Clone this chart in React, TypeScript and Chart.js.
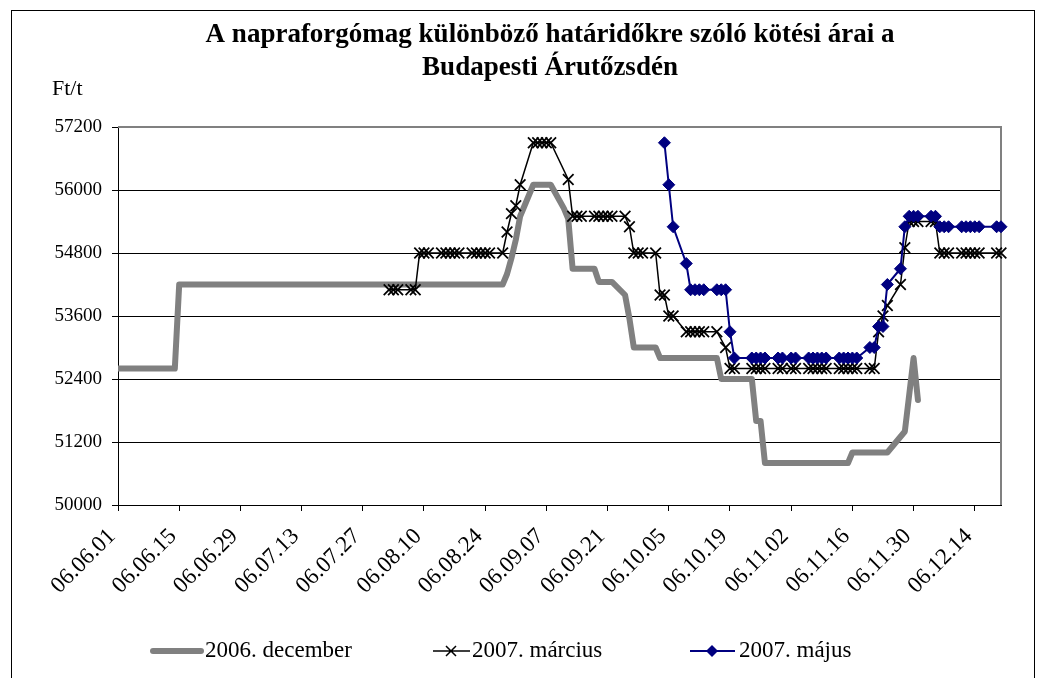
import React, { useEffect, useRef } from 'react';
import { Chart, registerables } from 'chart.js';

Chart.register(...registerables);

// ---- Data ----
const titleLines = ['A napraforgómag különböző határidőkre szóló kötési árai a', 'Budapesti Árutőzsdén'];
const yUnit = 'Ft/t';
const xTickLabels = ['06.06.01', '06.06.15', '06.06.29', '06.07.13', '06.07.27', '06.08.10', '06.08.24', '06.09.07', '06.09.21', '06.10.05', '06.10.19', '06.11.02', '06.11.16', '06.11.30', '06.12.14'];
const yTickValues = [50000, 51200, 52400, 53600, 54800, 56000, 57200];
const axisStart = '06.01';
const axisEnd = '12.20';
const seriesNames = ['2006. december', '2007. március', '2007. május'];

// 2006. december (vertices of the thick grey line)
const dec2006Dates = ['06.01', '06.14', '06.15', '08.28', '08.29', '08.30', '08.31', '09.01', '09.04', '09.08', '09.11', '09.12', '09.13', '09.18', '09.19', '09.22', '09.25', '09.26', '09.27', '10.02', '10.03', '10.16', '10.17', '10.24', '10.25', '10.26', '10.27', '11.15', '11.16', '11.24', '11.28', '11.29', '11.30', '12.01'];
const dec2006Values = [52600, 52600, 54200, 54200, 54400, 54700, 55050, 55500, 56100, 56100, 55650, 55450, 54500, 54500, 54250, 54250, 54000, 53550, 53000, 53000, 52800, 52800, 52400, 52400, 51600, 51600, 50800, 50800, 51000, 51000, 51400, 52100, 52800, 52000];

// 2007. március (black line with x markers)
const mar2007Dates = ['08.02', '08.03', '08.04', '08.07', '08.08', '08.09', '08.10', '08.11', '08.14', '08.15', '08.16', '08.17', '08.18', '08.21', '08.22', '08.23', '08.24', '08.25', '08.28', '08.29', '08.30', '08.31', '09.01', '09.04', '09.05', '09.06', '09.07', '09.08', '09.12', '09.13', '09.14', '09.15', '09.18', '09.19', '09.20', '09.21', '09.22', '09.25', '09.26', '09.27', '09.28', '09.29', '10.02', '10.03', '10.04', '10.05', '10.06', '10.09', '10.10', '10.11', '10.12', '10.13', '10.16', '10.18', '10.19', '10.20', '10.24', '10.25', '10.26', '10.27', '10.30', '10.31', '11.02', '11.03', '11.06', '11.07', '11.08', '11.09', '11.10', '11.13', '11.14', '11.15', '11.16', '11.17', '11.20', '11.21', '11.22', '11.23', '11.24', '11.27', '11.28', '11.29', '11.30', '12.01', '12.04', '12.05', '12.06', '12.07', '12.08', '12.11', '12.12', '12.13', '12.14', '12.15', '12.19', '12.20'];
const mar2007Values = [54100, 54100, 54100, 54100, 54100, 54800, 54800, 54800, 54800, 54800, 54800, 54800, 54800, 54800, 54800, 54800, 54800, 54800, 54800, 55200, 55550, 55700, 56100, 56900, 56900, 56900, 56900, 56900, 56200, 55500, 55500, 55500, 55500, 55500, 55500, 55500, 55500, 55500, 55300, 54800, 54800, 54800, 54800, 54000, 54000, 53600, 53600, 53300, 53300, 53300, 53300, 53300, 53300, 53000, 52600, 52600, 52600, 52600, 52600, 52600, 52600, 52600, 52600, 52600, 52600, 52600, 52600, 52600, 52600, 52600, 52600, 52600, 52600, 52600, 52600, 52600, 53300, 53600, 53800, 54200, 54900, 55400, 55400, 55400, 55400, 55400, 54800, 54800, 54800, 54800, 54800, 54800, 54800, 54800, 54800, 54800];

// 2007. május (navy line with diamond markers)
const may2007Dates = ['10.04', '10.05', '10.06', '10.09', '10.10', '10.11', '10.12', '10.13', '10.16', '10.17', '10.18', '10.19', '10.20', '10.24', '10.25', '10.26', '10.27', '10.30', '10.31', '11.02', '11.03', '11.06', '11.07', '11.08', '11.09', '11.10', '11.13', '11.14', '11.15', '11.16', '11.17', '11.20', '11.21', '11.22', '11.23', '11.24', '11.27', '11.28', '11.29', '11.30', '12.01', '12.04', '12.05', '12.06', '12.07', '12.08', '12.11', '12.12', '12.13', '12.14', '12.15', '12.19', '12.20'];
const may2007Values = [56900, 56100, 55300, 54600, 54100, 54100, 54100, 54100, 54100, 54100, 54100, 53300, 52800, 52800, 52800, 52800, 52800, 52800, 52800, 52800, 52800, 52800, 52800, 52800, 52800, 52800, 52800, 52800, 52800, 52800, 52800, 53000, 53000, 53400, 53400, 54200, 54500, 55300, 55500, 55500, 55500, 55500, 55500, 55300, 55300, 55300, 55300, 55300, 55300, 55300, 55300, 55300, 55300];

// ---- helpers ----
function dayIndex(md: string): number {
  const [m, d] = md.split('.').map(Number);
  const [m0, d0] = axisStart.split('.').map(Number);
  return Math.round((Date.UTC(2006, m - 1, d) - Date.UTC(2006, m0 - 1, d0)) / 86400000);
}
function toPoints(dates: string[], values: number[]) {
  return dates.map((d, i) => ({ x: dayIndex(d), y: values[i] }));
}

const FONT = "'Liberation Serif', 'Times New Roman', serif";
const GREY = '#808080';
const NAVY = '#000080';

const decorPlugin = {
  id: 'decor',
  beforeDraw(chart: any) {
    const ctx = chart.ctx;
    ctx.save();
    ctx.fillStyle = '#fff';
    ctx.fillRect(0, 0, chart.width, chart.height);
    ctx.strokeStyle = '#000';
    ctx.lineWidth = 1;
    ctx.strokeRect(11.5, 10.5, 1023, 700);
    ctx.restore();
  },
  beforeDatasetsDraw(chart: any) {
    const { ctx, chartArea: a } = chart;
    ctx.save();
    ctx.strokeStyle = GREY;
    ctx.lineWidth = 2;
    ctx.beginPath();
    ctx.moveTo(a.left, a.top);
    ctx.lineTo(a.right, a.top);
    ctx.lineTo(a.right, a.bottom);
    ctx.stroke();
    ctx.restore();
  },
  afterDraw(chart: any) {
    const ctx = chart.ctx;
    ctx.save();
    ctx.fillStyle = '#000';
    ctx.textBaseline = 'middle';
    ctx.font = `bold 27px ${FONT}`;
    ctx.textAlign = 'center';
    ctx.fillText(titleLines[0], 550, 35);
    ctx.fillText(titleLines[1], 550, 68);
    ctx.font = `22px ${FONT}`;
    ctx.textAlign = 'left';
    ctx.fillText(yUnit, 52, 89);
    const ly = 651;
    ctx.font = `23px ${FONT}`;
    ctx.strokeStyle = GREY;
    ctx.lineWidth = 6;
    ctx.lineCap = 'round';
    ctx.beginPath();
    ctx.moveTo(153, ly);
    ctx.lineTo(201, ly);
    ctx.stroke();
    ctx.fillText(seriesNames[0], 205, ly);
    ctx.lineCap = 'butt';
    ctx.strokeStyle = '#000';
    ctx.lineWidth = 1.5;
    ctx.beginPath();
    ctx.moveTo(433, ly);
    ctx.lineTo(470, ly);
    ctx.moveTo(446, ly - 5);
    ctx.lineTo(456, ly + 5);
    ctx.moveTo(456, ly - 5);
    ctx.lineTo(446, ly + 5);
    ctx.stroke();
    ctx.fillText(seriesNames[1], 472, ly);
    ctx.strokeStyle = NAVY;
    ctx.fillStyle = NAVY;
    ctx.lineWidth = 2;
    ctx.beginPath();
    ctx.moveTo(690, ly);
    ctx.lineTo(735, ly);
    ctx.stroke();
    ctx.beginPath();
    ctx.moveTo(712, ly - 6);
    ctx.lineTo(718, ly);
    ctx.lineTo(712, ly + 6);
    ctx.lineTo(706, ly);
    ctx.closePath();
    ctx.fill();
    ctx.fillStyle = '#000';
    ctx.fillText(seriesNames[2], 739, ly);
    ctx.restore();
  },
};

export default function App() {
  const ref = useRef<HTMLCanvasElement | null>(null);
  useEffect(() => {
    if (!ref.current) return;
    const chart = new Chart(ref.current, {
      type: 'line',
      data: {
        datasets: [
          {
            label: seriesNames[0],
            data: toPoints(dec2006Dates, dec2006Values),
            borderColor: GREY,
            borderWidth: 6,
            borderJoinStyle: 'round',
            borderCapStyle: 'round',
            pointRadius: 0,
            tension: 0,
            order: 3,
          },
          {
            label: seriesNames[1],
            data: toPoints(mar2007Dates, mar2007Values),
            borderColor: '#000',
            borderWidth: 1.5,
            pointStyle: 'crossRot',
            pointRadius: 7.5,
            pointBorderWidth: 1.75,
            pointBorderColor: '#000',
            pointBackgroundColor: '#000',
            tension: 0,
            clip: false,
            order: 2,
          },
          {
            label: seriesNames[2],
            data: toPoints(may2007Dates, may2007Values),
            borderColor: NAVY,
            borderWidth: 2,
            pointStyle: 'rectRot',
            pointRadius: 6,
            pointBorderWidth: 1,
            pointBorderColor: NAVY,
            pointBackgroundColor: NAVY,
            tension: 0,
            clip: false,
            order: 1,
          },
        ] as any,
      },
      options: {
        responsive: false,
        animation: false,
        devicePixelRatio: 1,
        layout: { padding: { left: 0, right: 38, top: 127, bottom: 0 } },
        plugins: {
          legend: { display: false },
          title: { display: false },
          tooltip: { enabled: false },
        },
        scales: {
          x: {
            type: 'linear',
            min: 0,
            max: dayIndex(axisEnd),
            afterFit(scale: any) {
              scale.height = 173;
            },
            ticks: {
              stepSize: 14,
              includeBounds: false,
              autoSkip: false,
              minRotation: 45,
              maxRotation: 45,
              padding: 12,
              labelOffset: -6,
              color: '#000',
              font: { family: FONT, size: 23 },
              callback: (value: any) => xTickLabels[Math.round(Number(value) / 14)] ?? '',
            },
            grid: { drawOnChartArea: false, drawTicks: true, tickLength: 6, color: '#000' },
            border: { display: true, color: '#000', width: 1 },
          },
          y: {
            min: yTickValues[0],
            max: yTickValues[yTickValues.length - 1],
            afterFit(scale: any) {
              scale.width = 118;
            },
            ticks: {
              stepSize: 1200,
              color: '#000',
              padding: 10,
              font: { family: FONT, size: 19 },
              callback: (value: any) => String(value),
            },
            grid: { color: '#000', lineWidth: 1, tickLength: 6 },
            border: { display: true, color: '#000', width: 1 },
          },
        },
      } as any,
      plugins: [decorPlugin],
    });
    return () => chart.destroy();
  }, []);
  return (
    <div style={{ position: 'fixed', left: 0, top: 0, width: 1039, height: 678, background: '#fff' }}>
      <canvas ref={ref} width={1039} height={678} style={{ display: 'block' }} />
    </div>
  );
}
